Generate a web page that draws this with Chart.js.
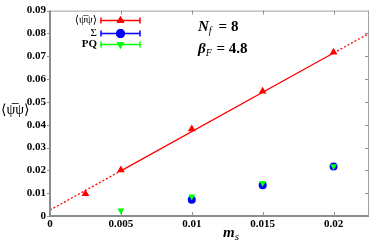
<!DOCTYPE html>
<html><head><meta charset="utf-8">
<script src="https://cdn.jsdelivr.net/npm/chart.js@4.4.1/dist/chart.umd.min.js"></script>
<style>html,body{margin:0;padding:0;background:#fff}#c{display:block}</style>
</head><body>
<canvas id="c" width="374" height="242"></canvas>
<script>
// ---- data ----
const msRed   = [0.0025, 0.005, 0.01, 0.015, 0.02];
const pbpVals = [0.0098, 0.0202, 0.0381, 0.0547, 0.0718];
const msBlue  = [0.01, 0.015, 0.02];
const sigVals = [0.0071, 0.0135, 0.0217];
const msGreen = [0.005, 0.01, 0.015, 0.02];
const pqVals  = [0.0024, 0.0085, 0.0145, 0.0218];
const fitX    = [0, 0.005, 0.02, 0.0225];
const fitY    = [0.0026, 0.0198, 0.0714, 0.0800];
const xTicks  = [0, 0.005, 0.01, 0.015, 0.02];
const xLabels = ['0', '0.005', '0.01', '0.015', '0.02'];
const yTicks  = [0, 0.01, 0.02, 0.03, 0.04, 0.05, 0.06, 0.07, 0.08, 0.09];
const yLabels = ['0', '0.01', '0.02', '0.03', '0.04', '0.05', '0.06', '0.07', '0.08', '0.09'];
const legendLabels = ['\u27E8\u03C8\u0305\u03C8\u27E9', '\u03A3', 'PQ'];

const RED = '#ff0000', BLUE = '#0000ff', GREEN = '#00ff00';
const SERIF = '"Liberation Serif", "DejaVu Serif", serif';
const AXC = '#8c8c8c';

const zip = (xs, ys) => xs.map((x, i) => ({x, y: ys[i]}));

const framePlugin = {
  id: 'frame',
  afterDraw(chart) {
    const {ctx, chartArea: a, scales: {x, y}} = chart;
    ctx.save();
    // top and right border
    ctx.strokeStyle = '#a0a0a0'; ctx.lineWidth = 1;
    ctx.beginPath();
    ctx.moveTo(a.left, a.top + 0.5); ctx.lineTo(a.right, a.top + 0.5);
    ctx.moveTo(a.right - 0.5, a.top); ctx.lineTo(a.right - 0.5, a.bottom);
    ctx.stroke();
    // left and bottom axis
    ctx.strokeStyle = AXC; ctx.lineWidth = 2;
    ctx.beginPath();
    ctx.moveTo(a.left, a.top); ctx.lineTo(a.left, a.bottom);
    ctx.moveTo(a.left, a.bottom); ctx.lineTo(a.right, a.bottom);
    ctx.stroke();
    // inward ticks
    ctx.strokeStyle = '#909090'; ctx.lineWidth = 1;
    ctx.beginPath();
    xTicks.forEach(v => {
      const px = Math.round(x.getPixelForValue(v)) + 0.5;
      if (v > 0) {
        ctx.moveTo(px, a.bottom); ctx.lineTo(px, a.bottom - 4);
        ctx.moveTo(px, a.top); ctx.lineTo(px, a.top + 4);
      }
    });
    yTicks.forEach(v => {
      const py = Math.round(y.getPixelForValue(v)) + 0.5;
      if (v > 0 && v < 0.09) {
        ctx.moveTo(a.right, py); ctx.lineTo(a.right - 4, py);
      }
      ctx.moveTo(a.left, py); ctx.lineTo(a.left - 3, py);
    });
    ctx.stroke();

    // legend
    const dsInfo = [
      {c: RED, style: 'triangle', rot: 0},
      {c: BLUE, style: 'circle', rot: 0},
      {c: GREEN, style: 'triangle', rot: 180}
    ];
    const lx0 = a.left + 51, lx1 = a.left + 90, lxm = (lx0 + lx1) / 2;
    const rows = [a.top + 10, a.top + 23, a.top + 34];
    dsInfo.forEach((d, i) => {
      const ly = rows[i];
      ctx.strokeStyle = d.c; ctx.lineWidth = 1.5;
      ctx.beginPath();
      ctx.moveTo(lx0, ly); ctx.lineTo(lx1, ly);
      ctx.moveTo(lx0, ly - 3); ctx.lineTo(lx0, ly + 3);
      ctx.moveTo(lx1, ly - 3); ctx.lineTo(lx1, ly + 3);
      ctx.stroke();
      ctx.fillStyle = d.c;
      Chart.helpers.drawPoint(ctx, {pointStyle: d.style, radius: 4.5, rotation: d.rot, borderWidth: 0}, lxm, ly);
      ctx.fill();
      ctx.fillStyle = '#000';
      ctx.font = (i === 2 ? 'bold ' : '') + '11px ' + SERIF;
      ctx.textAlign = 'right'; ctx.textBaseline = 'middle';
      ctx.fillText(legendLabels[i], lx0 - 4, ly);
    });

    // annotation text
    ctx.textAlign = 'left'; ctx.textBaseline = 'alphabetic';
    const tx = a.left + 148;
    let ty = a.top + 20;
    ctx.font = 'italic bold 15px ' + SERIF;
    ctx.fillText('N', tx, ty);
    let w = ctx.measureText('N').width;
    ctx.font = 'italic 10px ' + SERIF;
    ctx.fillText('f', tx + w, ty + 3);
    w += 6;
    ctx.font = 'bold 15px ' + SERIF;
    ctx.fillText(' = 8', tx + w, ty);
    ty = a.top + 42;
    ctx.font = 'italic bold 15px ' + SERIF;
    ctx.fillText('\u03B2', tx, ty);
    w = ctx.measureText('\u03B2').width;
    ctx.font = 'italic 10px ' + SERIF;
    ctx.fillText('F', tx + w, ty + 3);
    w += 7;
    ctx.font = 'bold 15px ' + SERIF;
    ctx.fillText(' = 4.8', tx + w, ty);

    // axis titles
    ctx.font = 'italic bold 15px ' + SERIF;
    const mx = x.getPixelForValue(0.0122);
    ctx.fillText('m', mx, a.bottom + 21);
    const mw = ctx.measureText('m').width;
    ctx.font = 'italic 11px ' + SERIF;
    ctx.fillText('s', mx + mw, a.bottom + 24);

    ctx.font = '14px ' + SERIF;
    ctx.textBaseline = 'middle';
    ctx.fillText(legendLabels[0], 1, y.getPixelForValue(0.0465));
    ctx.restore();
  }
};

new Chart(document.getElementById('c'), {
  type: 'scatter',
  data: {
    datasets: [
      {label: 'fit', order: 3, data: zip(fitX, fitY), showLine: true, borderColor: RED, borderWidth: 1.3,
       pointRadius: 0, fill: false,
       segment: {borderDash: c => (c.p0DataIndex === 1 ? undefined : [2, 2])}},
      {label: legendLabels[0], order: 2, data: zip(msRed, pbpVals), pointStyle: 'triangle', pointRadius: 4.5,
       backgroundColor: RED, borderColor: RED, borderWidth: 0},
      {label: legendLabels[1], order: 1, data: zip(msBlue, sigVals), pointStyle: 'circle', pointRadius: 4,
       backgroundColor: BLUE, borderColor: BLUE, borderWidth: 0},
      {label: legendLabels[2], order: 0, data: zip(msGreen, pqVals), pointStyle: 'triangle', rotation: 180, pointRadius: 4,
       backgroundColor: GREEN, borderColor: GREEN, borderWidth: 0}
    ]
  },
  options: {
    responsive: false, animation: false, events: [],
    layout: {padding: {top: 5, right: 5, left: 0, bottom: 0}},
    plugins: {legend: {display: false}, tooltip: {enabled: false}},
    scales: {
      x: {
        type: 'linear', min: 0, max: 0.0225,
        afterBuildTicks: s => { s.ticks = xTicks.map(v => ({value: v})); },
        afterFit: s => { s.height = 26; },
        ticks: {callback: (v, i) => xLabels[i], color: '#000', padding: 2,
                font: {family: SERIF, weight: 'bold', size: 11}, maxRotation: 0, autoSkip: false},
        grid: {display: false, drawTicks: false},
        border: {display: false}
      },
      y: {
        type: 'linear', min: 0, max: 0.09,
        afterBuildTicks: s => { s.ticks = yTicks.map(v => ({value: v})); },
        afterFit: s => { s.width = 50; },
        ticks: {callback: (v, i) => yLabels[i], color: '#000', padding: 4,
                font: {family: SERIF, weight: 'bold', size: 11}, autoSkip: false},
        grid: {display: false, drawTicks: false},
        border: {display: false}
      }
    }
  },
  plugins: [framePlugin]
});
</script>
</body></html>
